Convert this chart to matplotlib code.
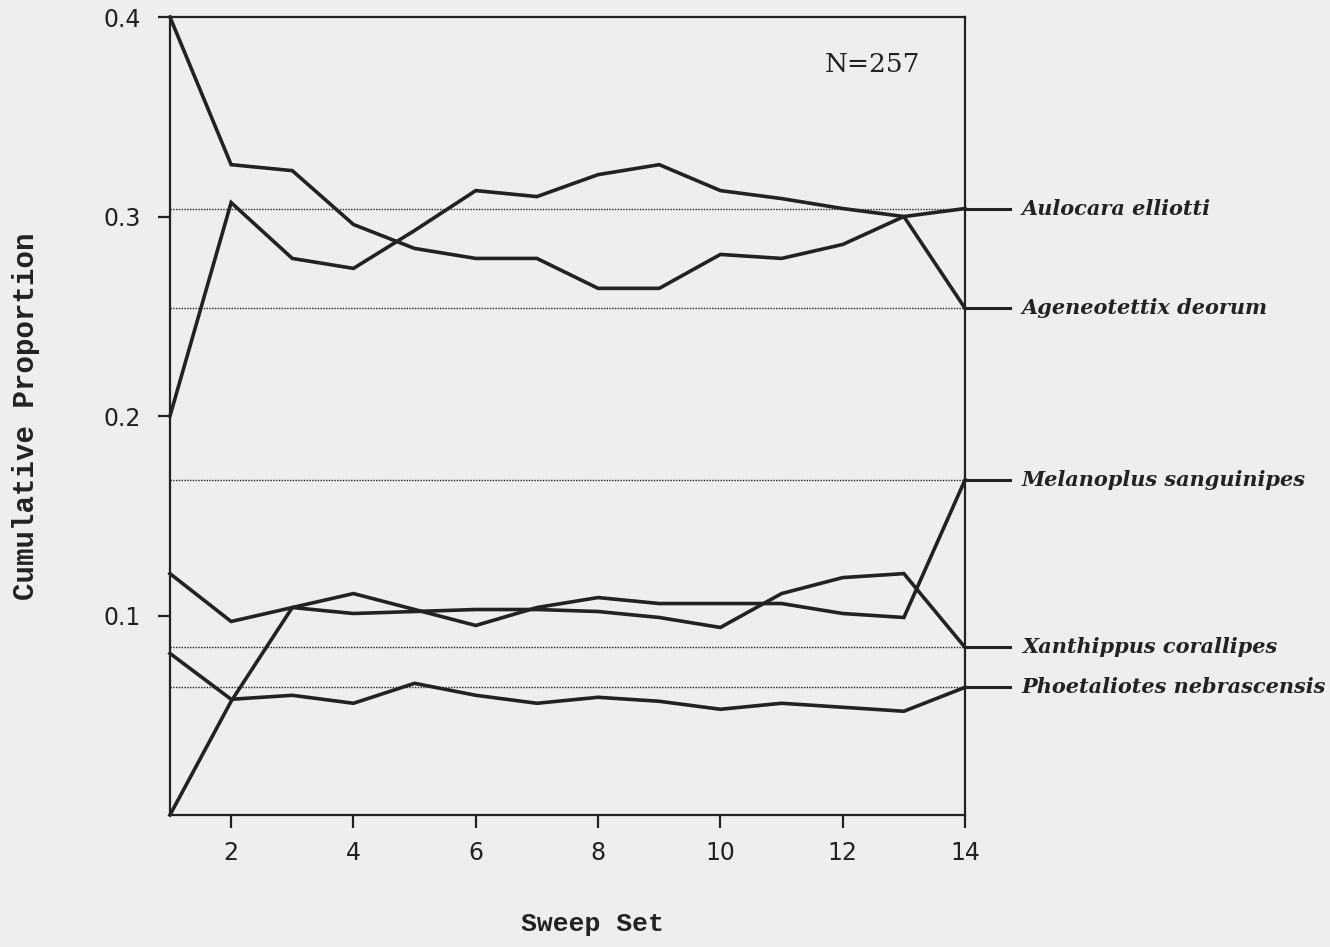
import matplotlib
matplotlib.use('Agg')
import matplotlib.pyplot as plt
import numpy

# sweep sets 1..14, cumulative proportion for each species
sweeps = list(range(1, 15))
species = ['Aulocara elliotti', 'Ageneotettix deorum', 'Melanoplus sanguinipes',
           'Xanthippus corallipes', 'Phoetaliotes nebrascensis']

aulocara = [0.400, 0.326, 0.323, 0.296, 0.284, 0.279, 0.279, 0.264, 0.264, 0.281, 0.279, 0.286, 0.300, 0.304]
ageneotettix = [0.200, 0.307, 0.279, 0.274, 0.293, 0.313, 0.310, 0.321, 0.326, 0.313, 0.309, 0.304, 0.300, 0.254]
melanoplus = [0.000, 0.057, 0.104, 0.111, 0.103, 0.095, 0.104, 0.109, 0.106, 0.106, 0.106, 0.101, 0.099, 0.168]
xanthippus = [0.121, 0.097, 0.104, 0.101, 0.102, 0.103, 0.103, 0.102, 0.099, 0.094, 0.111, 0.119, 0.121, 0.084]
phoetaliotes = [0.081, 0.058, 0.060, 0.056, 0.066, 0.060, 0.056, 0.059, 0.057, 0.053, 0.056, 0.054, 0.052, 0.064]

series = [aulocara, ageneotettix, melanoplus, xanthippus, phoetaliotes]
n_total = 257

bg = '#eeeeee'
ink = '#222222'

fig = plt.figure(figsize=(13.3, 9.47), dpi=100, facecolor=bg)
ax = fig.add_axes([0.1278, 0.1394, 0.5978, 0.8426])
ax.set_facecolor(bg)

for vals in series:
    # dotted reference line at the final proportion
    ax.hlines(vals[-1], sweeps[0], sweeps[-1], colors=ink, linestyles=(0, (1, 1)), linewidth=1.0)
    ax.plot(sweeps, vals, color=ink, linewidth=2.6, solid_joinstyle='miter', clip_on=False, zorder=3)

# labels on the right with short connectors
for name, vals in zip(species, series):
    ax.plot([14, 14.74], [vals[-1], vals[-1]], color=ink, linewidth=2.2, clip_on=False)
    ax.text(14.93, vals[-1], name, fontsize=15, family='DejaVu Serif', weight='bold',
            style='italic', va='center', ha='left', color=ink, clip_on=False)

ax.text(12.48, 0.376, 'N=%d' % n_total, fontsize=19, family='DejaVu Serif',
        ha='center', va='center', color=ink)

ax.set_xlim(1, 14)
ax.set_ylim(0, 0.4)
ax.set_xticks(numpy.arange(2, 15, 2))
ax.set_yticks([0.1, 0.2, 0.3, 0.4])
ax.set_yticklabels(['0.1', '0.2', '0.3', '0.4'])
for s in ax.spines.values():
    s.set_linewidth(1.6)
    s.set_color(ink)
ax.tick_params(direction='out', length=9, width=1.6, colors=ink, labelsize=17)
ax.tick_params(axis='y', pad=12)
ax.tick_params(axis='x', pad=10)
for lab in ax.get_xticklabels() + ax.get_yticklabels():
    lab.set_family('DejaVu Sans')

ax.set_xlabel('Sweep Set', fontsize=19, family='Liberation Mono', weight='bold', color=ink)
ax.xaxis.set_label_coords(0.531, -0.1216)
ax.set_ylabel('Cumulative Proportion', fontsize=21, family='Liberation Mono', weight='bold', color=ink, labelpad=46)

plt.savefig('out.png', dpi=100, facecolor=bg)
